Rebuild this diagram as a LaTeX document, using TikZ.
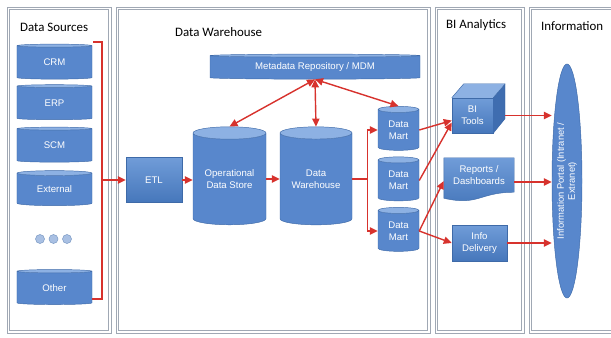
\documentclass[tikz,border=0pt]{standalone}
\usepackage{fontspec}
\setmainfont{Liberation Sans}
\newfontfamily\headfont{Carlito}
\usetikzlibrary{shapes.geometric, arrows.meta, calc, backgrounds}
\definecolor{myred}{RGB}{215,50,45}
\definecolor{myblue}{RGB}{88,135,204}
\definecolor{mylight}{RGB}{141,177,227}
\definecolor{myline}{RGB}{62,106,168}
\definecolor{mygray}{RGB}{160,168,180}
\definecolor{mytop}{RGB}{112,156,216}
\definecolor{mybottom}{RGB}{70,119,187}
\definecolor{myside}{RGB}{63,109,176}
\definecolor{mydot}{RGB}{169,192,227}

\tikzset{
    frame/.style={draw=mygray, line width=0.6pt},
    heading/.style={anchor=west, font=\headfont\fontsize{11}{13}\selectfont},
    store/.style={cylinder, shape border rotate=90, draw=myline, cylinder uses custom fill,
        cylinder body fill=myblue, cylinder end fill=mylight, text=white, align=center,
        inner sep=0pt, font=\fontsize{8.2}{10}\selectfont},
    box/.style={rectangle, draw=myline, top color=mytop, bottom color=mybottom, text=white,
        align=center, inner sep=0pt, font=\fontsize{8.2}{10}\selectfont},
    dot/.style={circle, draw=myline!70, fill=mydot, minimum size=2.7mm, inner sep=0pt},
    flow/.style={draw=myred, line width=1.2pt},
    tip/.style={flow, -{Triangle[length=2.4mm, width=2.2mm]}},
    both/.style={flow, {Triangle[length=2.4mm, width=2.2mm]}-{Triangle[length=2.4mm, width=2.2mm]}},
}

\begin{document}
\begin{tikzpicture}[x=0.3mm, y=-0.3mm]
    \useasboundingbox (0,0) rectangle (611,338);
    % Panels
    \foreach \xa/\xb in {7/111, 116/430, 435/524, 529/620} {
        \draw[frame] (\xa,7) rectangle (\xb,333);
        \draw[frame] (\xa+2.2,9.2) rectangle (\xb-2.2,330.8);
    }
    % Titles
    \node[heading] (hsrc) at (16,27) {Data Sources};
    \node[heading] (hdw) at (171,32) {Data Warehouse};
    \node[heading] (hbi) at (442,25) {BI Analytics};
    \node[heading] (hinfo) at (537,26) {Information};

    % Data sources
    \foreach \name/\txt/\y in {crm/CRM/62.5, erp/ERP/103, scm/SCM/145.5, ext/External/189.5, oth/Other/288}
        \node[store, aspect=0.14, minimum width=22.5mm, minimum height=10.5mm] (\name) at (54.5,\y) {\txt};
    \foreach \i/\x in {1/40, 2/53.5, 3/67}
        \node[dot] (dot\i) at (\x,239) {};
    \coordinate (brtop) at (93,42);
    \coordinate (brmid) at (102,180);
    \coordinate (brbot) at (92,299);
    \draw[flow] (brtop) -| (brmid) |- (brbot);

    % Data warehouse
    \node[box, minimum width=16.8mm, minimum height=13.5mm] (etl) at (154,180) {ETL};
    \node[store, aspect=0.025, minimum width=63mm, minimum height=7.5mm] (meta) at (315,67.5)
        {Metadata Repository / MDM};
    \node[store, aspect=0.25, minimum width=21.9mm, minimum height=29.4mm] (ods) at (229.5,179)
        {Operational\\Data Store};
    \node[store, aspect=0.25, minimum width=21.6mm, minimum height=29.4mm] (dw) at (316,179)
        {Data\\Warehouse};
    \foreach \i/\y in {1/130, 2/180.5, 3/231}
        \node[store, aspect=0.3, minimum width=12.3mm, minimum height=13.2mm] (mart\i) at (398.5,\y)
            {Data\\Mart};

    \draw[tip] (brmid) -- (etl.west);
    \draw[tip] (etl.east) -- (etl.east -| ods.west);
    \draw[tip] (ods.east) -- (ods.east -| dw.west);
    \draw[both] (meta.south) -- (ods.north);
    \draw[both] (meta.south) -- (dw.north);
    \draw[both] (meta.south) -- (mart1.north);
    \draw[flow] (dw.east) -- ++(15,0) coordinate (split);
    \draw[tip] (split) |- (mart1.west);
    \draw[tip] (split) |- (mart3.west);

    % BI analytics
    \node[box, minimum width=12.3mm, minimum height=10.5mm] (bi) at (472.5,115.5) {BI\\Tools};
    \fill[mylight] (bi.north west) -- ++(12,-14) -- ++(41,0) -- (bi.north east) -- cycle;
    \fill[myside] (bi.north east) -- ++(12,-14) -- ++(0,35) -- (bi.south east) -- cycle;
    \draw[myline] (bi.north west) -- ++(12,-14) -- ++(41,0) -- ++(0,35) -- (bi.south east);
    \draw[myline] (bi.north east) -- ++(12,-14);
    \node[rectangle, inner sep=0pt, text=white, align=center, font=\fontsize{8.2}{10}\selectfont,
        minimum width=21mm, minimum height=10.2mm] (rep) at (479,175) {Reports /\\Dashboards};
    \begin{scope}[on background layer]
        \draw[myline, top color=mytop, bottom color=mybottom] (rep.north west) -- (rep.north east)
            -- (rep.south east) .. controls (rep.south) and ($(rep.south)+(0,14)$)
            .. ($(rep.south west)+(0,6)$) -- cycle;
    \end{scope}
    \node[box, minimum width=16.5mm, minimum height=10.8mm] (info) at (479.5,243) {Info\\Delivery};

    \draw[tip] (mart1.east) -- ($(bi.west)+(0,5)$);
    \draw[tip] (mart2.east) -- ($(bi.west)+(0,7)$);
    \draw[tip] (mart3.east) -- ($(rep.west)+(0,6)$);
    \draw[tip] (mart3.east) -- (info.west);

    % Information
    \node[ellipse, rotate=90, draw=myline, fill=myblue, text=white, align=center, inner sep=0pt,
        minimum width=70.2mm, minimum height=9mm, font=\fontsize{8}{9.5}\selectfont] (portal)
        at (567,181) {Information Portal (Intranet /\\Extranet)};
    \draw[tip] ($(bi.east)+(12,0)$) coordinate (biout) -- (biout -| portal.north);
    \draw[tip] ($(rep.east)+(0,7)$) coordinate (repout) -- (repout -| portal.north);
    \draw[tip] (info.east) -- (info.east -| portal.north);
\end{tikzpicture}
\end{document}
